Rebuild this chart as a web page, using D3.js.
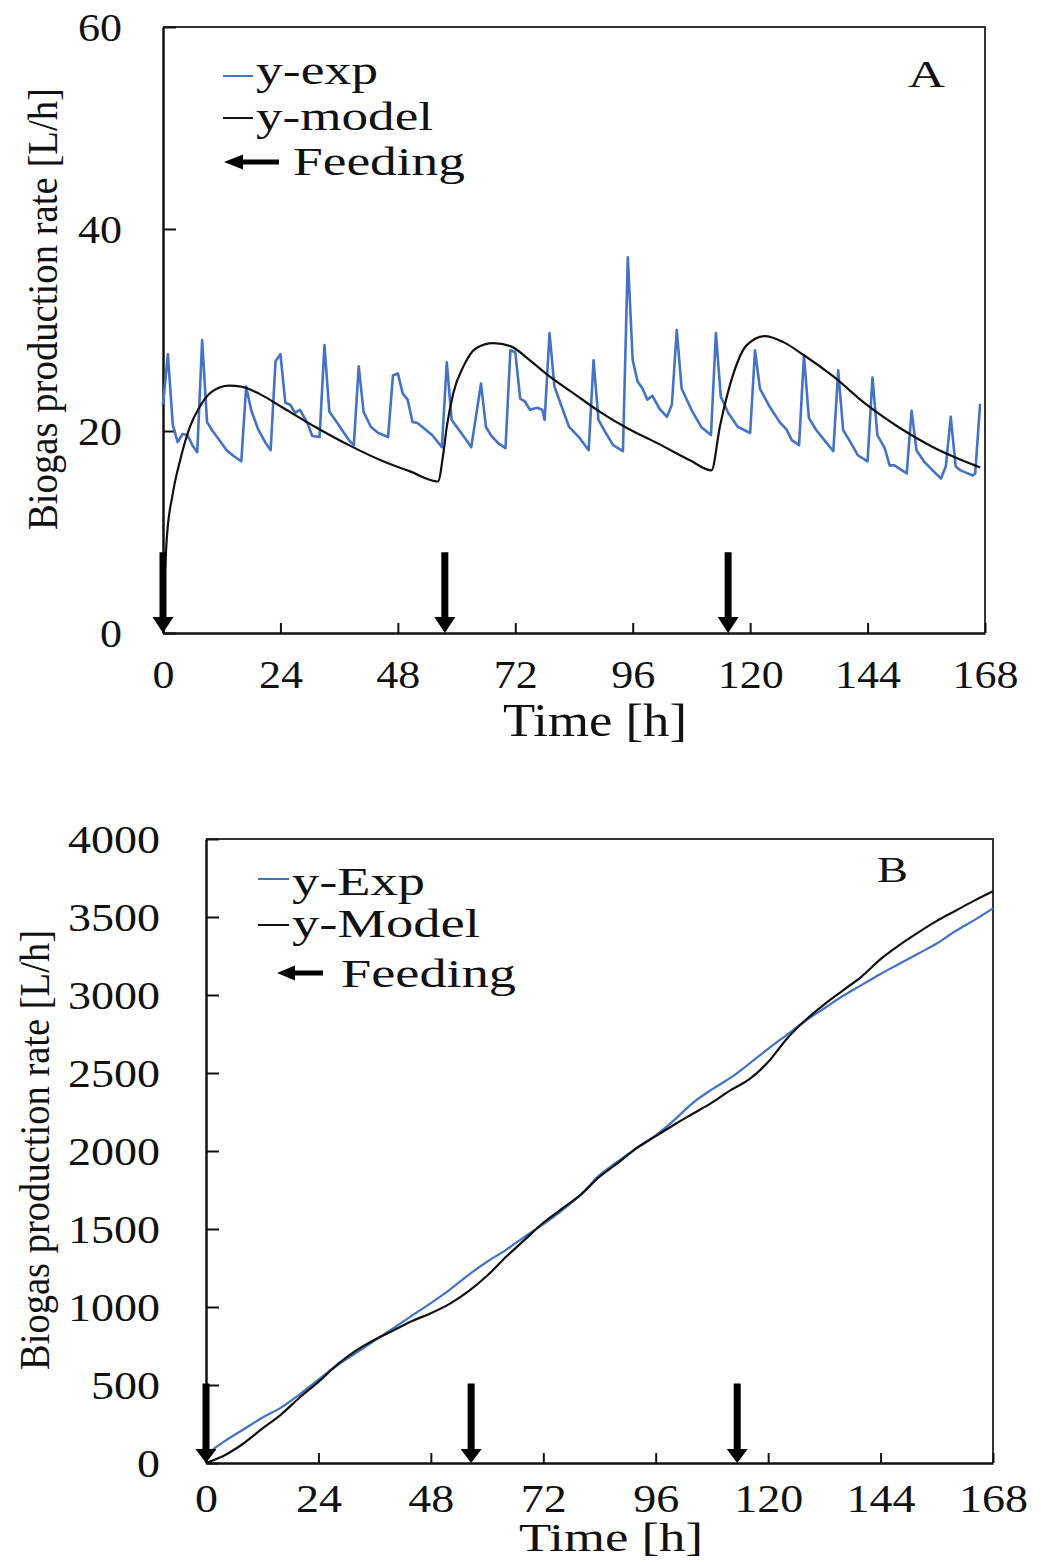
<!DOCTYPE html>
<html>
<head>
<meta charset="utf-8">
<script src="https://cdn.jsdelivr.net/npm/d3@7"></script>
<style>
  body { margin: 0; background: #fff; }
  text { font-family: "Liberation Serif", "Times New Roman", serif; fill: #111; }
</style>
</head>
<body>
<div id="chart"></div>
<script>
// ---- data ----
const ticksX = [0, 24, 48, 72, 96, 120, 144, 168];
const ticksYA = [0, 20, 40, 60];
const ticksYB = [0, 500, 1000, 1500, 2000, 2500, 3000, 3500, 4000];

// panel A: hourly biogas production rate
const timeExpA = [0, 1, 2, 3, 4, 5, 6, 7, 8, 9, 10, 11.5, 13, 14.5, 16, 17, 18, 19.5, 21, 22,
  23, 24, 25, 26, 27, 28, 29.5, 30.5, 32, 33, 34, 35.5, 37, 38, 39, 40, 41, 42.5, 44, 46,
  47, 48, 49, 50, 51, 52, 53.5, 55, 57, 58, 59, 60.5, 62, 63, 65, 66, 67, 68.5, 70, 71,
  72, 73, 74, 75, 76.5, 77.5, 78, 79, 80, 81.5, 83, 85, 87, 88, 89, 90.5, 92, 94, 95, 96,
  97, 98, 99, 100, 101.5, 103, 104, 105, 106, 108, 110, 112, 113, 114, 115.5, 117.5, 120, 121, 122, 124,
  126, 127.5, 128.5, 130, 131, 132, 133.5, 135.5, 137, 138, 139, 140.5, 142, 144, 145, 146, 147.5, 148.5, 149.5, 152,
  153, 154, 155.5, 157.5, 159, 160, 161, 162, 163, 164.5, 165.5, 166, 167];
const yExpA = [22.6, 27.6, 20.6, 18.9, 19.7, 19.6, 18.6, 17.9, 29.0, 20.9, 20.1, 19.1, 18.1, 17.5, 17.0, 24.4, 22.1, 20.1, 18.8, 18.1,
  26.9, 27.6, 22.8, 22.6, 21.8, 22.1, 20.8, 19.5, 19.4, 28.5, 21.9, 20.9, 19.8, 19.1, 18.6, 26.4, 21.9, 20.4, 19.8, 19.4,
  25.5, 25.7, 23.7, 23.1, 20.9, 20.8, 20.2, 19.6, 18.4, 26.8, 21.1, 20.1, 19.1, 18.4, 24.7, 20.4, 19.6, 18.8, 18.3, 28.0,
  27.8, 23.2, 22.9, 22.1, 22.3, 22.1, 21.1, 29.7, 24.4, 22.4, 20.4, 19.4, 18.1, 27.0, 21.1, 19.8, 18.6, 18.0, 37.2, 27.0,
  24.9, 24.2, 23.1, 23.5, 22.2, 21.4, 22.6, 30.0, 24.2, 22.1, 20.4, 19.6, 29.7, 23.4, 21.8, 20.4, 19.8, 28.0, 24.2, 22.4,
  20.9, 20.1, 19.1, 18.6, 27.5, 21.3, 20.1, 18.9, 18.0, 26.0, 20.1, 18.9, 17.6, 17.0, 25.3, 19.6, 18.3, 16.6, 16.6, 15.8,
  22.0, 18.1, 17.0, 16.0, 15.3, 16.5, 21.4, 16.5, 16.1, 15.8, 15.6, 15.8, 22.7];

const timeModelA = [0, 0.75, 2, 3.5, 5.5, 7.5, 10, 13.5, 16, 20, 24.5, 31.5, 38, 45, 50.5, 56.2,
  57.3, 58, 59.3, 61.4, 64, 67.5, 71, 75, 79, 84, 89.3, 94.8, 101, 107.7, 112.1,
  113.8, 116.6, 119.3, 123, 126.8, 131, 137, 143.8, 150.6, 157.4, 167];
const yModelA = [2, 9.2, 13.8, 17.1, 20.4, 22.4, 23.9, 24.5, 24.4, 23.6, 22.3, 20.3, 18.6, 17.0, 16.0, 15.0,
  17.8, 20.4, 23.7, 26.4, 28.2, 28.7, 28.4, 27.0, 25.4, 23.7, 21.9, 20.3, 18.8, 17.1, 16.1,
  20.4, 25.7, 28.5, 29.4, 28.8, 27.5, 25.4, 22.6, 20.3, 18.4, 16.4];

// panel B: cumulative biogas
const timeB = [0, 4, 8, 12, 16, 20, 24, 28, 32, 36, 40, 44, 48, 52, 56, 60, 64, 68, 72, 76, 80, 84,
  88, 92, 96, 100, 104, 108, 112, 116, 120, 124, 128, 132, 136, 140, 144, 148, 152, 156, 160, 164, 168];
const yExpB = [55, 140, 215, 290, 355, 440, 535, 625, 705, 785, 865, 945, 1025, 1110, 1205, 1290, 1365, 1450, 1530, 1620, 1720, 1845,
  1935, 2020, 2100, 2200, 2310, 2395, 2470, 2560, 2655, 2745, 2835, 2915, 2995, 3065, 3135, 3200, 3265, 3330, 3410, 3480, 3555];
const yModelB = [0, 50, 125, 220, 310, 420, 520, 630, 720, 790, 850, 910, 960, 1020, 1100, 1200, 1320, 1430, 1540, 1630, 1720, 1835,
  1925, 2020, 2095, 2170, 2240, 2310, 2390, 2460, 2570, 2720, 2840, 2940, 3030, 3120, 3230, 3320, 3400, 3475, 3540, 3605, 3665];

// feeding events (h)
const feedA = [0, 57.6, 115.5];
const feedB = [0, 56.6, 113.4];

const BLUE = '#4472c4';
const W = 1041, H = 1562;

const svg = d3.select('#chart').append('svg')
  .attr('width', W)
  .attr('height', H);

// text helper, textLength keeps the stretched look of the original
function label(str, x, y, size, width, anchor = 'start', rotate = false) {
  const t = svg.append('text')
    .attr('x', x)
    .attr('y', y)
    .attr('font-size', size)
    .attr('text-anchor', anchor)
    .attr('textLength', width)
    .attr('lengthAdjust', 'spacingAndGlyphs')
    .text(str);
  if (rotate) t.attr('transform', `rotate(-90, ${x}, ${y})`);
  return t;
}

function downArrow(cx, yTop, yTip, sw, hw, hh) {
  return `M${cx - sw / 2},${yTop}H${cx + sw / 2}V${yTip - hh}H${cx + hw / 2}L${cx},${yTip}L${cx - hw / 2},${yTip - hh}H${cx - sw / 2}Z`;
}

function leftArrow(xTip, xEnd, cy, sw, hw, hl) {
  return `M${xEnd},${cy - sw / 2}V${cy + sw / 2}H${xTip + hl}V${cy + hw / 2}L${xTip},${cy}L${xTip + hl},${cy - hw / 2}V${cy - sw / 2}Z`;
}

function panel(o) {
  const x = d3.scaleLinear().domain([0, 168]).range([o.x0, o.x1]);
  const y = d3.scaleLinear().domain([0, o.yMax]).range([o.y0, o.y1]);

  // top and right frame
  svg.append('path')
    .attr('d', `M${o.x0},${o.y1}H${o.x1}V${o.y0}`)
    .attr('fill', 'none')
    .attr('stroke', '#333')
    .attr('stroke-width', 2);

  const gx = svg.append('g')
    .attr('transform', `translate(0,${o.y0})`)
    .call(d3.axisBottom(x).tickValues(ticksX).tickFormat(d => d)
      .tickSizeInner(-10).tickSizeOuter(0).tickPadding(o.padX));
  const gy = svg.append('g')
    .attr('transform', `translate(${o.x0},0)`)
    .call(d3.axisLeft(y).tickValues(o.ticksY).tickFormat(d => d)
      .tickSizeInner(-13).tickSizeOuter(0).tickPadding(o.padY));

  [gx, gy].forEach(g => {
    g.select('.domain').attr('stroke', '#111').attr('stroke-width', 2.5);
    g.selectAll('.tick line').attr('stroke', '#111').attr('stroke-width', 2);
    g.selectAll('.tick text')
      .attr('font-size', 41)
      .attr('fill', '#111')
      .attr('textLength', d => String(d).length * o.digitW)
      .attr('lengthAdjust', 'spacingAndGlyphs');
  });

  const line = d3.line()
    .x(d => x(d[0]))
    .y(d => y(d[1]));

  svg.append('path')
    .datum(o.tExp.map((t, i) => [t, o.exp[i]]))
    .attr('fill', 'none')
    .attr('stroke', BLUE)
    .attr('stroke-width', o.wExp)
    .attr('stroke-linejoin', 'round')
    .attr('d', line.curve(o.curveExp));

  svg.append('path')
    .datum(o.tModel.map((t, i) => [t, o.model[i]]))
    .attr('fill', 'none')
    .attr('stroke', '#111')
    .attr('stroke-width', 2.2)
    .attr('d', line.curve(d3.curveMonotoneX));

  // feeding arrows
  svg.selectAll(null)
    .data(o.feed)
    .join('path')
    .attr('d', d => downArrow(x(d), y(o.arrowTop), o.y0, 7, o.headW, o.headH))
    .attr('fill', '#000');

  return { x, y };
}

// ---- panel A ----
panel({
  x0: 163, x1: 985, y0: 633, y1: 27, yMax: 60, ticksY: ticksYA,
  padX: 26, padY: 41, digitW: 22,
  tExp: timeExpA, exp: yExpA, wExp: 2.6, curveExp: d3.curveLinear,
  tModel: timeModelA, model: yModelA,
  feed: feedA, arrowTop: 8, headW: 21, headH: 16
});

// ---- panel B ----
panel({
  x0: 206, x1: 993, y0: 1463, y1: 839, yMax: 4000, ticksY: ticksYB,
  padX: 20, padY: 46, digitW: 23,
  tExp: timeB, exp: yExpB, wExp: 2.2, curveExp: d3.curveMonotoneX,
  tModel: timeB, model: yModelB,
  feed: feedB, arrowTop: 510, headW: 21, headH: 14
});

// axis titles
label('Time [h]', 595, 736, 46, 184, 'middle');
label('Biogas production rate [L/h]', 57, 309, 42, 442, 'middle', true);
label('Time [h]', 611, 1551, 41, 184, 'middle');
label('Biogas production rate [L/h]', 49, 1150, 42, 440, 'middle', true);

// panel letters
label('A', 908, 87, 38, 37);
label('B', 877, 882, 36, 31);

// legend A
svg.append('line').attr('x1', 223).attr('x2', 253).attr('y1', 76).attr('y2', 76)
  .attr('stroke', BLUE).attr('stroke-width', 2);
label('y-exp', 256, 84, 39, 122);
svg.append('line').attr('x1', 223).attr('x2', 253).attr('y1', 118).attr('y2', 118)
  .attr('stroke', '#111').attr('stroke-width', 2);
label('y-model', 256, 130, 39, 177);
svg.append('path').attr('d', leftArrow(224, 279, 162, 5, 15, 19)).attr('fill', '#000');
label('Feeding', 293, 175, 39, 172);

// legend B
svg.append('line').attr('x1', 258).attr('x2', 289).attr('y1', 879).attr('y2', 879)
  .attr('stroke', BLUE).attr('stroke-width', 2);
label('y-Exp', 292, 895, 39, 133);
svg.append('line').attr('x1', 258).attr('x2', 289).attr('y1', 925).attr('y2', 925)
  .attr('stroke', '#111').attr('stroke-width', 2);
label('y-Model', 292, 937, 39, 188);
svg.append('path').attr('d', leftArrow(277, 323, 973, 5, 15, 18)).attr('fill', '#000');
label('Feeding', 341, 987, 39, 175);
</script>
</body>
</html>
